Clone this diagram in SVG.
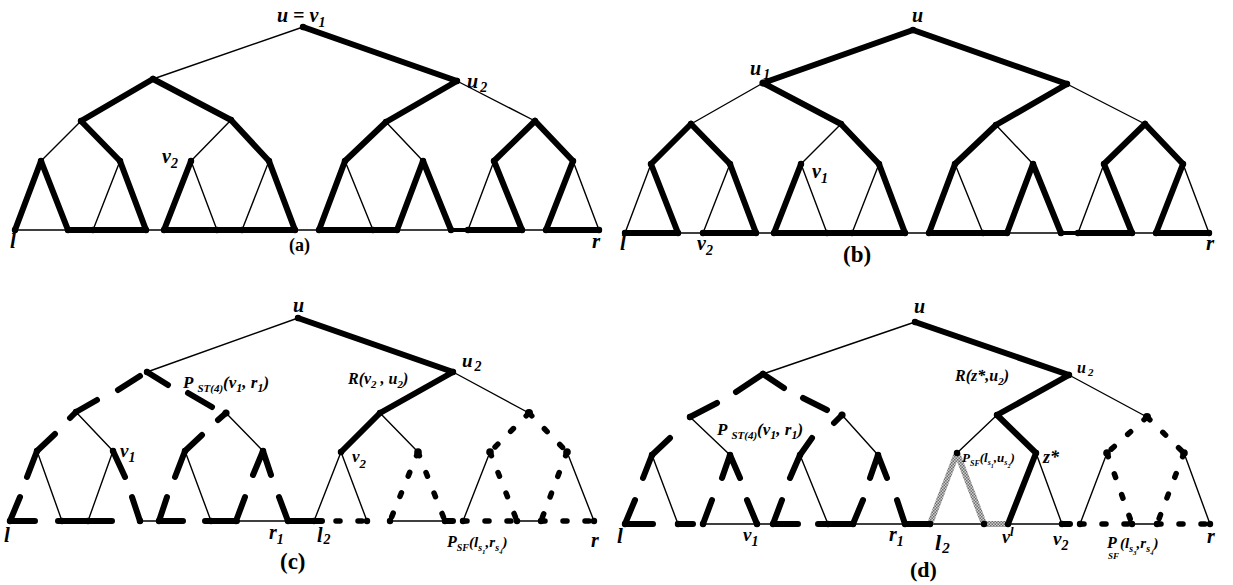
<svg xmlns="http://www.w3.org/2000/svg" width="1233" height="585" viewBox="0 0 1233 585">
<defs>
<pattern id="hatch" patternUnits="userSpaceOnUse" width="3" height="3">
<rect width="3" height="3" fill="#cfcfcf"/>
<rect width="1.5" height="1.5" fill="#6e6e6e"/>
<rect x="1.5" y="1.5" width="1.5" height="1.5" fill="#6e6e6e"/>
</pattern>
</defs>
<style>
.thin{fill:none;stroke:#000;stroke-width:1.4}
.thick{fill:none;stroke:#000;stroke-width:6;stroke-linecap:round;stroke-linejoin:round}
.med{fill:none;stroke:#000;stroke-width:4}
.ld{fill:none;stroke:#000;stroke-width:6;stroke-linecap:round;stroke-linejoin:round}
.sd{fill:none;stroke:#000;stroke-width:5.5;stroke-linecap:round;stroke-dasharray:4 18}
.gray{fill:none;stroke:url(#hatch);stroke-width:6;stroke-linejoin:round}
.nodes circle{fill:#000}
text{font-family:"Liberation Serif","Times New Roman",serif;font-weight:bold;font-style:italic;fill:#000}
.cap{font-style:normal}
</style>
<rect width="1233" height="585" fill="#fff"/>

<!-- ================= Panel (a) ================= -->
<g id="panel-a">
<g id="a-connectors">
<path class="thin" d="M303,27L153,79 M81,121L41,161 M231,120L191,161 M120,161L93,230 M191,161L217,230 M269,161L242,230 M457,81L535,121 M386,122L423,161 M345,161L373,230 M494,161L468,230 M573,161L599,230 M15,230L599,230"/>
<path class="thick" d="M303,27L457,81 M153,79L81,121 M153,79L231,120 M81,121L120,161 M231,120L269,161 M41,161L15,230 M41,161L68,230 M120,161L146,230 M191,161L164,230 M269,161L295,230 M457,81L386,122 M386,122L345,161 M535,121L494,161 M535,121L573,161 M345,161L319,230 M423,161L397,230 M423,161L451,230 M494,161L522,230 M573,161L546,230 M68,230L146,230 M164,230L295,230 M319,230L397,230 M468,230L522,230 M546,230L599,230"/>
<path class="med" d="M451,230L468,230"/>
</g>
<g class="nodes">
<g id="a-R"><circle cx="303" cy="27" r="3.2"/></g>
<g id="a-A"><circle cx="153" cy="79" r="3.2"/></g>
<g id="a-B"><circle cx="457" cy="81" r="3.2"/></g>
<g id="a-A1"><circle cx="81" cy="121" r="3.2"/></g>
<g id="a-A2"><circle cx="231" cy="120" r="3.2"/></g>
<g id="a-B1"><circle cx="386" cy="122" r="3.2"/></g>
<g id="a-B2"><circle cx="535" cy="121" r="3.2"/></g>
<g id="a-a1"><circle cx="41" cy="161" r="3.2"/></g>
<g id="a-a2"><circle cx="120" cy="161" r="3.2"/></g>
<g id="a-a3"><circle cx="191" cy="161" r="3.2"/></g>
<g id="a-a4"><circle cx="269" cy="161" r="3.2"/></g>
<g id="a-b1"><circle cx="345" cy="161" r="3.2"/></g>
<g id="a-b2"><circle cx="423" cy="161" r="3.2"/></g>
<g id="a-b3"><circle cx="494" cy="161" r="3.2"/></g>
<g id="a-b4"><circle cx="573" cy="161" r="3.2"/></g>
<g id="a-L0"><circle cx="15" cy="230" r="3.2"/></g>
<g id="a-L1"><circle cx="68" cy="230" r="3.2"/></g>
<g id="a-L2"><circle cx="93" cy="230" r="3.2"/></g>
<g id="a-L3"><circle cx="146" cy="230" r="3.2"/></g>
<g id="a-L4"><circle cx="164" cy="230" r="3.2"/></g>
<g id="a-L5"><circle cx="217" cy="230" r="3.2"/></g>
<g id="a-L6"><circle cx="242" cy="230" r="3.2"/></g>
<g id="a-L7"><circle cx="295" cy="230" r="3.2"/></g>
<g id="a-L8"><circle cx="319" cy="230" r="3.2"/></g>
<g id="a-L9"><circle cx="373" cy="230" r="3.2"/></g>
<g id="a-L10"><circle cx="397" cy="230" r="3.2"/></g>
<g id="a-L11"><circle cx="451" cy="230" r="3.2"/></g>
<g id="a-L12"><circle cx="468" cy="230" r="3.2"/></g>
<g id="a-L13"><circle cx="522" cy="230" r="3.2"/></g>
<g id="a-L14"><circle cx="546" cy="230" r="3.2"/></g>
<g id="a-L15"><circle cx="599" cy="230" r="3.2"/></g>
</g>
<g id="a-labels">
<text x="277" y="22" font-size="20">u = v<tspan font-size="14" dy="5">1</tspan></text>
<text x="467" y="88" font-size="20">u<tspan font-size="14" dy="4" dx="2">2</tspan></text>
<text x="162" y="163" font-size="20">v<tspan font-size="14" dy="5">2</tspan></text>
<text x="10" y="248" font-size="21">l</text>
<text x="592" y="248" font-size="21">r</text>
<text x="289" y="251" font-size="18" class="cap">(a)</text>
</g>
</g>

<!-- ================= Panel (b) ================= -->
<g id="panel-b">
<g id="b-connectors">
<path class="thin" d="M763,83L691,124 M841,124L801,164 M651,164L625,233 M730,164L703,233 M801,164L827,233 M879,164L852,233 M1067,84L1145,124 M996,125L1033,164 M955,164L983,233 M1104,164L1078,233 M1183,164L1209,233 M625,233L1209,233"/>
<path class="thick" d="M913,30L763,83 M913,30L1067,84 M763,83L841,124 M691,124L651,164 M691,124L730,164 M841,124L879,164 M651,164L678,233 M730,164L756,233 M801,164L774,233 M879,164L905,233 M1067,84L996,125 M996,125L955,164 M1145,124L1104,164 M1145,124L1183,164 M955,164L929,233 M1033,164L1007,233 M1033,164L1061,233 M1104,164L1132,233 M1183,164L1156,233 M625,233L678,233 M703,233L756,233 M774,233L905,233 M929,233L1007,233 M1078,233L1132,233 M1156,233L1209,233"/>
<path class="med" d="M1061,233L1078,233"/>
</g>
<g class="nodes">
<g id="b-R"><circle cx="913" cy="30" r="3.2"/></g>
<g id="b-A"><circle cx="763" cy="83" r="3.6"/></g>
<g id="b-B"><circle cx="1067" cy="84" r="3.2"/></g>
<g id="b-A1"><circle cx="691" cy="124" r="3.2"/></g>
<g id="b-A2"><circle cx="841" cy="124" r="3.2"/></g>
<g id="b-B1"><circle cx="996" cy="125" r="3.2"/></g>
<g id="b-B2"><circle cx="1145" cy="124" r="3.2"/></g>
<g id="b-a1"><circle cx="651" cy="164" r="3.2"/></g>
<g id="b-a2"><circle cx="730" cy="164" r="3.2"/></g>
<g id="b-a3"><circle cx="801" cy="164" r="3.2"/></g>
<g id="b-a4"><circle cx="879" cy="164" r="3.2"/></g>
<g id="b-b1"><circle cx="955" cy="164" r="3.2"/></g>
<g id="b-b2"><circle cx="1033" cy="164" r="3.2"/></g>
<g id="b-b3"><circle cx="1104" cy="164" r="3.2"/></g>
<g id="b-b4"><circle cx="1183" cy="164" r="3.2"/></g>
<g id="b-L0"><circle cx="625" cy="233" r="3.2"/></g>
<g id="b-L1"><circle cx="678" cy="233" r="3.2"/></g>
<g id="b-L2"><circle cx="703" cy="233" r="3.2"/></g>
<g id="b-L3"><circle cx="756" cy="233" r="3.2"/></g>
<g id="b-L4"><circle cx="774" cy="233" r="3.2"/></g>
<g id="b-L5"><circle cx="827" cy="233" r="3.2"/></g>
<g id="b-L6"><circle cx="852" cy="233" r="3.2"/></g>
<g id="b-L7"><circle cx="905" cy="233" r="3.2"/></g>
<g id="b-L8"><circle cx="929" cy="233" r="3.2"/></g>
<g id="b-L9"><circle cx="983" cy="233" r="3.2"/></g>
<g id="b-L10"><circle cx="1007" cy="233" r="3.2"/></g>
<g id="b-L11"><circle cx="1061" cy="233" r="3.2"/></g>
<g id="b-L12"><circle cx="1078" cy="233" r="3.2"/></g>
<g id="b-L13"><circle cx="1132" cy="233" r="3.2"/></g>
<g id="b-L14"><circle cx="1156" cy="233" r="3.2"/></g>
<g id="b-L15"><circle cx="1209" cy="233" r="3.2"/></g>
</g>
<g id="b-labels">
<text x="912" y="22" font-size="20">u</text>
<text x="750" y="75" font-size="20">u<tspan font-size="14" dy="4" dx="2">1</tspan></text>
<text x="812" y="178" font-size="20">v<tspan font-size="14" dy="5">1</tspan></text>
<text x="620" y="250" font-size="21">l</text>
<text x="697" y="250" font-size="20">v<tspan font-size="14" dy="5">2</tspan></text>
<text x="843" y="262" font-size="23" class="cap">(b)</text>
<text x="1206" y="250" font-size="21">r</text>
</g>
</g>

<!-- ================= Panel (c) ================= -->
<g id="panel-c">
<g id="c-connectors">
<path class="thin" d="M298,318L147,372 M76,412L113,451 M226,413L263,451 M37,451L62,521 M113,451L88,521 M185,451L211,521 M453,372L529,413 M380,413L418,452 M341,452L314,521 M341,452L367,521 M490,452L463,521 M567,452L594,521 M140,521L159,521 M236,521L288,521 M390,521L445,521 M517,521L541,521"/>
<path class="thick" d="M298,318L453,372 M453,372L380,413 M380,413L341,452 M445,521L453,521"/>
<path class="ld" d="M140,376L118,390 M97,400L76,412L70,418 M147,372L168,385 M188,393L212,407 M226,413L218,420 M55,434L37,451L27,477 M20,497L10,521L35,521 M58,521L112,521 M113,451L125,477 M132,497L140,521 M202,435L185,451L175,477 M167,497L159,521L183,521 M205,521L237,521 M253,475L263,451L271,475 M245,497L236,521 M279,497L288,521L322,521"/>
<path class="sd" d="M418,452L390,521 M418,452L445,521 M529,413L490,452 M529,413L567,452 M490,452L517,521 M567,452L541,521 M314,521L367,521 M463,521L517,521 M541,521L594,521"/>
</g>
<g class="nodes">
<g id="c-R"><circle cx="298" cy="318" r="3.2"/></g>
<g id="c-A"><circle cx="147" cy="372" r="3.2"/></g>
<g id="c-B"><circle cx="453" cy="372" r="3.2"/></g>
<g id="c-A1"><circle cx="76" cy="412" r="3.2"/></g>
<g id="c-A2"><circle cx="226" cy="413" r="3.6"/></g>
<g id="c-B1"><circle cx="380" cy="413" r="3.2"/></g>
<g id="c-B2"><circle cx="529" cy="413" r="4"/></g>
<g id="c-a1"><circle cx="37" cy="451" r="3.2"/></g>
<g id="c-a2"><circle cx="113" cy="451" r="3.2"/></g>
<g id="c-a3"><circle cx="185" cy="451" r="3.2"/></g>
<g id="c-a4"><circle cx="263" cy="451" r="3.2"/></g>
<g id="c-b1"><circle cx="341" cy="452" r="3.2"/></g>
<g id="c-b2"><circle cx="418" cy="452" r="3.8"/></g>
<g id="c-b3"><circle cx="490" cy="452" r="3.8"/></g>
<g id="c-b4"><circle cx="567" cy="452" r="3.8"/></g>
<g id="c-L0"><circle cx="10" cy="521" r="3.2"/></g>
<g id="c-L1"><circle cx="62" cy="521" r="3.2"/></g>
<g id="c-L2"><circle cx="88" cy="521" r="3.2"/></g>
<g id="c-L3"><circle cx="140" cy="521" r="3.2"/></g>
<g id="c-L4"><circle cx="159" cy="521" r="3.2"/></g>
<g id="c-L5"><circle cx="211" cy="521" r="3.2"/></g>
<g id="c-L6"><circle cx="236" cy="521" r="3.2"/></g>
<g id="c-L7"><circle cx="288" cy="521" r="3.2"/></g>
<g id="c-L8"><circle cx="314" cy="521" r="3.2"/></g>
<g id="c-L9"><circle cx="367" cy="521" r="3.2"/></g>
<g id="c-L10"><circle cx="390" cy="521" r="3.2"/></g>
<g id="c-L11"><circle cx="445" cy="521" r="3.2"/></g>
<g id="c-L12"><circle cx="463" cy="521" r="3.2"/></g>
<g id="c-L13"><circle cx="517" cy="521" r="3.2"/></g>
<g id="c-L14"><circle cx="541" cy="521" r="3.2"/></g>
<g id="c-L15"><circle cx="594" cy="521" r="3.2"/></g>
</g>
<g id="c-labels">
<text x="293" y="312" font-size="20">u</text>
<text x="183" y="388" font-size="17">P<tspan font-size="11" dx="4" dy="4">ST(4)</tspan><tspan dy="-4">(v</tspan><tspan font-size="12" dy="4">1</tspan><tspan dy="-4">, r</tspan><tspan font-size="12" dy="4">1</tspan><tspan dy="-4">)</tspan></text>
<text x="348" y="384" font-size="16">R(v<tspan font-size="11" dy="4">2</tspan><tspan dy="-4"> , u</tspan><tspan font-size="11" dy="4">2</tspan><tspan dy="-4">)</tspan></text>
<text x="462" y="367" font-size="19">u<tspan font-size="14" dy="4" dx="2">2</tspan></text>
<text x="120" y="457" font-size="19">v<tspan font-size="14" dy="5">1</tspan></text>
<text x="352" y="462" font-size="17">v<tspan font-size="13" dy="6">2</tspan></text>
<text x="4" y="542" font-size="21">l</text>
<text x="269" y="539" font-size="20">r<tspan font-size="14" dy="5">1</tspan></text>
<text x="317" y="542" font-size="20">l<tspan font-size="14" dy="2" dx="1">2</tspan></text>
<text x="280" y="569" font-size="23" class="cap">(c)</text>
<text x="447" y="547" font-size="16">P<tspan font-size="10" dy="4">SF</tspan><tspan font-size="15" dy="-4">(l</tspan><tspan font-size="10" dy="4">s</tspan><tspan font-size="7" dy="3">1</tspan><tspan font-size="15" dy="-7">,r</tspan><tspan font-size="10" dy="4">s</tspan><tspan font-size="7" dy="3">4</tspan><tspan font-size="15" dy="-7">)</tspan></text>
<text x="591" y="547" font-size="20">r</text>
</g>
</g>

<!-- ================= Panel (d) ================= -->
<g id="panel-d">
<g id="d-connectors">
<path class="thin" d="M915,322L763,374 M690,417L730,455 M842,415L878,455 M652,455L678,524 M800,455L828,524 M1069,375L1147,417 M997,415L957,453 M1036,453L1062,524 M1107,453L1080,524 M1184,453L1210,524 M703,524L773,524 M853,524L905,524 M930,524L984,524 M1008,524L1062,524 M1132,524L1157,524"/>
<path class="thick" d="M915,322L1069,375 M1069,375L997,415 M997,415L1036,453 M1036,453L1008,524 M1062,524L1070,524"/>
<path class="gray" d="M930,524L957,453L984,524L1008,524"/>
<path class="ld" d="M763,374L736,392 M717,403L690,417 M763,374L784,388 M803,398L827,410 M842,415L834,423 M670,438L652,455L643,478 M635,500L625,524L653,524 M678,524L693,524 M722,478L730,455L740,478 M712,500L703,524 M747,500L757,524 M812,438L800,455L790,478 M782,500L773,524L798,524 M818,524L853,524 M870,478L878,455L887,478 M863,500L853,524 M897,500L905,524L930,524"/>
<path class="sd" d="M1147,417L1107,453 M1147,417L1184,453 M1107,453L1132,524 M1184,453L1157,524 M1080,524L1132,524 M1157,524L1210,524"/>
</g>
<g class="nodes">
<g id="d-R"><circle cx="915" cy="322" r="3.2"/></g>
<g id="d-A"><circle cx="763" cy="374" r="3.2"/></g>
<g id="d-B"><circle cx="1069" cy="375" r="3.2"/></g>
<g id="d-A1"><circle cx="690" cy="417" r="3.2"/></g>
<g id="d-A2"><circle cx="842" cy="415" r="3.6"/></g>
<g id="d-B1"><circle cx="997" cy="415" r="3.2"/></g>
<g id="d-B2"><circle cx="1147" cy="417" r="4"/></g>
<g id="d-a1"><circle cx="652" cy="455" r="3.2"/></g>
<g id="d-a2"><circle cx="730" cy="455" r="3.2"/></g>
<g id="d-a3"><circle cx="800" cy="455" r="3.2"/></g>
<g id="d-a4"><circle cx="878" cy="455" r="3.2"/></g>
<g id="d-b1"><circle cx="957" cy="453" r="3.2"/></g>
<g id="d-b2"><circle cx="1036" cy="453" r="3.2"/></g>
<g id="d-b3"><circle cx="1107" cy="453" r="3.8"/></g>
<g id="d-b4"><circle cx="1184" cy="453" r="3.8"/></g>
<g id="d-L0"><circle cx="625" cy="524" r="3.2"/></g>
<g id="d-L1"><circle cx="678" cy="524" r="3.2"/></g>
<g id="d-L2"><circle cx="703" cy="524" r="3.2"/></g>
<g id="d-L3"><circle cx="757" cy="524" r="3.2"/></g>
<g id="d-L4"><circle cx="773" cy="524" r="3.2"/></g>
<g id="d-L5"><circle cx="828" cy="524" r="3.2"/></g>
<g id="d-L6"><circle cx="853" cy="524" r="3.2"/></g>
<g id="d-L7"><circle cx="905" cy="524" r="3.2"/></g>
<g id="d-L8"><circle cx="930" cy="524" r="3.2"/></g>
<g id="d-L9"><circle cx="984" cy="524" r="3.2"/></g>
<g id="d-L10"><circle cx="1008" cy="524" r="3.2"/></g>
<g id="d-L11"><circle cx="1062" cy="524" r="3.2"/></g>
<g id="d-L12"><circle cx="1080" cy="524" r="3.2"/></g>
<g id="d-L13"><circle cx="1132" cy="524" r="3.2"/></g>
<g id="d-L14"><circle cx="1157" cy="524" r="3.2"/></g>
<g id="d-L15"><circle cx="1210" cy="524" r="3.2"/></g>
</g>
<g id="d-labels">
<text x="914" y="313" font-size="20">u</text>
<text x="717" y="435" font-size="17">P<tspan font-size="11" dx="4" dy="4">ST(4)</tspan><tspan dy="-4">(v</tspan><tspan font-size="12" dy="4">1</tspan><tspan dy="-4">, r</tspan><tspan font-size="12" dy="4">1</tspan><tspan dy="-4">)</tspan></text>
<text x="1077" y="373" font-size="16">u<tspan font-size="11" dy="3" dx="2">2</tspan></text>
<text x="955" y="381" font-size="16">R(z*,u<tspan font-size="11" dy="4">2</tspan><tspan dy="-4">)</tspan></text>
<text x="962" y="462" font-size="13">P<tspan font-size="8" dy="4">SF</tspan><tspan font-size="13" dy="-4">(l</tspan><tspan font-size="8" dy="3">s</tspan><tspan font-size="6" dy="3">1</tspan><tspan font-size="13" dy="-6">,u</tspan><tspan font-size="8" dy="3">s</tspan><tspan font-size="6" dy="3">2</tspan><tspan font-size="13" dy="-6">)</tspan></text>
<text x="1043" y="463" font-size="18">z*</text>
<text x="617" y="543" font-size="21">l</text>
<text x="743" y="541" font-size="19">v<tspan font-size="14" dy="5">1</tspan></text>
<text x="889" y="541" font-size="20">r<tspan font-size="14" dy="5">1</tspan></text>
<text x="910" y="577" font-size="22" class="cap">(d)</text>
<text x="935" y="550" font-size="22">l<tspan font-size="15" dy="3" dx="1">2</tspan></text>
<text x="1002" y="543" font-size="18">v<tspan font-size="13" dy="-7">l</tspan></text>
<text x="1053" y="545" font-size="19">v<tspan font-size="14" dy="5">2</tspan></text>
<text x="1107" y="548" font-size="16">P</text>
<text x="1108" y="559" font-size="9">SF</text>
<text x="1120" y="548" font-size="15">(l<tspan font-size="10" dy="4">s</tspan><tspan font-size="7" dy="3">3</tspan><tspan font-size="15" dy="-7">,r</tspan><tspan font-size="10" dy="4">s</tspan><tspan font-size="7" dy="3">4</tspan><tspan font-size="15" dy="-7">)</tspan></text>
<text x="1207" y="543" font-size="20">r</text>
</g>
</g>
</svg>
